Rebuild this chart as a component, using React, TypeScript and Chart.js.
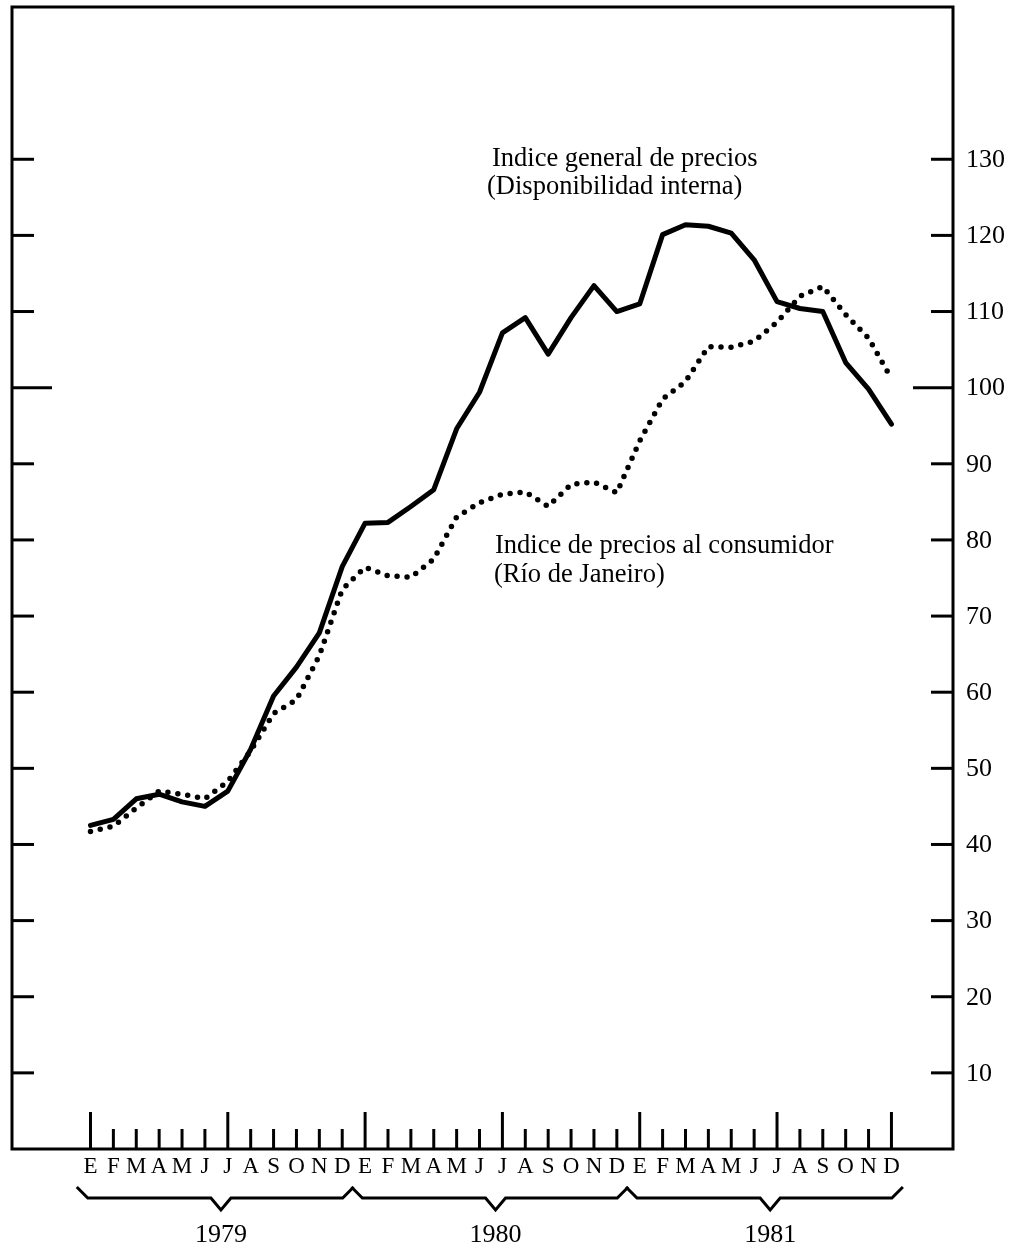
import React, { useEffect, useRef } from 'react';
import { Chart, registerables } from 'chart.js';

Chart.register(...registerables);

// ---- Data ----
const yearMonths = ['E', 'F', 'M', 'A', 'M', 'J', 'J', 'A', 'S', 'O', 'N', 'D'];
const yearLabels = ['1979', '1980', '1981'];
const monthLabels = [...yearMonths, ...yearMonths, ...yearMonths];
const yTickValues = [10, 20, 30, 40, 50, 60, 70, 80, 90, 100, 110, 120, 130];

// Indice general de precios (Disponibilidad interna)
const generalIndex = [
  42.5, 43.3, 46.0, 46.6, 45.6, 45.0, 47.0, 52.5, 59.5, 63.3, 67.8, 76.5,
  82.2, 82.3, 84.4, 86.6, 94.6, 99.4, 107.2, 109.2, 104.4, 109.2, 113.4, 110.0,
  111.0, 120.1, 121.4, 121.2, 120.3, 116.8, 111.3, 110.4, 110.0, 103.3, 99.8, 95.2,
];

// Indice de precios al consumidor (Río de Janeiro)
const consumerIndex = [
  41.7, 42.4, 44.8, 47.0, 46.6, 46.0, 48.3, 52.3, 57.2, 59.0, 64.8, 73.5,
  76.4, 75.3, 75.1, 77.5, 83.0, 84.9, 86.0, 86.3, 84.4, 87.3, 87.6, 86.2,
  93.0, 98.5, 100.8, 105.4, 105.3, 106.1, 108.6, 112.0, 113.3, 109.6, 106.5, 101.2,
];

const seriesTitles = ['Indice general de precios', 'Indice de precios al consumidor'];
const seriesNotes = ['(Disponibilidad interna)', '(Río de Janeiro)'];

const SERIF = '"Liberation Serif", "Times New Roman", serif';

const framePlugin = {
  id: 'framePlugin',
  afterDraw(chart: any) {
    const { ctx, chartArea: a, scales } = chart;
    const x = scales.x;
    const y = scales.y;
    const seg = (x0: number, y0: number, x1: number, y1: number) => {
      ctx.beginPath();
      ctx.moveTo(x0, y0);
      ctx.lineTo(x1, y1);
      ctx.stroke();
    };
    ctx.save();
    ctx.strokeStyle = '#000';
    ctx.fillStyle = '#000';
    ctx.lineCap = 'butt';

    // frame
    ctx.lineWidth = 3;
    ctx.strokeRect(a.left, a.top, a.right - a.left, a.bottom - a.top);

    // y ticks (inward, both sides) and right labels
    ctx.font = `26px ${SERIF}`;
    ctx.textAlign = 'left';
    ctx.textBaseline = 'middle';
    for (const v of yTickValues) {
      const py = y.getPixelForValue(v);
      const len = v === 100 ? 40 : 22;
      ctx.lineWidth = 3;
      seg(a.left, py, a.left + len, py);
      seg(a.right - len, py, a.right, py);
      ctx.fillText(String(v), a.right + 13, py + 1);
    }

    // x ticks and month labels
    ctx.font = `23px ${SERIF}`;
    ctx.textAlign = 'center';
    ctx.textBaseline = 'alphabetic';
    monthLabels.forEach((m, i) => {
      const px = x.getPixelForValue(i);
      const tall = i % 6 === 0 || i === monthLabels.length - 1;
      ctx.lineWidth = 3;
      seg(px, a.bottom, px, a.bottom - (tall ? 37 : 20));
      ctx.fillText(m, px, a.bottom + 24);
    });

    // braces and year labels
    ctx.font = `26px ${SERIF}`;
    yearLabels.forEach((yr, k) => {
      const x0 = x.getPixelForValue(k * 12 - 0.6);
      const x1 = x.getPixelForValue(k * 12 + 11.5);
      const xm = x.getPixelForValue(k * 12 + 5.7);
      const top = a.bottom + 38;
      const mid = a.bottom + 49;
      const tip = a.bottom + 61;
      ctx.lineWidth = 3;
      ctx.lineJoin = 'miter';
      ctx.beginPath();
      ctx.moveTo(x0, top);
      ctx.lineTo(x0 + 11, mid);
      ctx.lineTo(xm - 10, mid);
      ctx.lineTo(xm, tip);
      ctx.lineTo(xm + 10, mid);
      ctx.lineTo(x1 - 11, mid);
      ctx.lineTo(x1, top);
      ctx.stroke();
      ctx.fillText(yr, xm, a.bottom + 93);
    });

    // series annotations
    ctx.font = `26.5px ${SERIF}`;
    ctx.textAlign = 'left';
    ctx.fillText(seriesTitles[0], 492, 166);
    ctx.fillText(seriesNotes[0], 487, 194);
    ctx.fillText(seriesTitles[1], 495, 553);
    ctx.fillText(seriesNotes[1], 494, 582);
    ctx.restore();
  },
};

export default function App() {
  const canvasRef = useRef<HTMLCanvasElement | null>(null);

  useEffect(() => {
    if (!canvasRef.current) return;
    const chart = new Chart(canvasRef.current, {
      type: 'line',
      data: {
        datasets: [
          {
            label: seriesTitles[0],
            data: generalIndex.map((v, i) => ({ x: i, y: v })),
            borderColor: '#000',
            borderWidth: 5,
            pointRadius: 0,
            tension: 0,
            borderJoinStyle: 'round',
            borderCapStyle: 'round',
            fill: false,
          },
          {
            label: seriesTitles[1],
            data: consumerIndex.map((v, i) => ({ x: i, y: v })),
            borderColor: '#000',
            borderWidth: 5.5,
            borderDash: [0, 10],
            borderCapStyle: 'round',
            pointRadius: 0,
            tension: 0,
            fill: false,
          },
        ],
      },
      options: {
        responsive: false,
        animation: false,
        devicePixelRatio: 1,
        layout: { padding: { left: 12, top: 7, right: 62, bottom: 96 } },
        scales: {
          x: { type: 'linear', min: -3.43, max: 37.69, display: false },
          y: { type: 'linear', min: 0, max: 150, display: false },
        },
        plugins: {
          legend: { display: false },
          tooltip: { enabled: false },
        },
      },
      plugins: [framePlugin],
    } as any);
    return () => chart.destroy();
  }, []);

  return (
    <div style={{ position: 'absolute', left: 0, top: 0, width: 1015, height: 1245, background: '#fff' }}>
      <canvas ref={canvasRef} width={1015} height={1245} style={{ display: 'block' }} />
    </div>
  );
}
